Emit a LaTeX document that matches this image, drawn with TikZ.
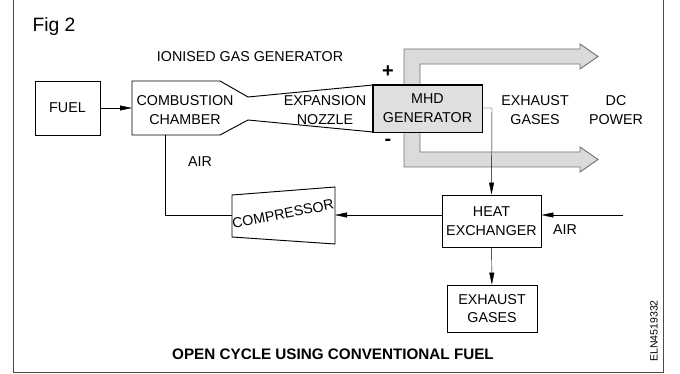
\documentclass[tikz,border=0pt]{standalone}
\usepackage{fontspec}
\setmainfont{Liberation Sans}
\usepackage{tikz}
\usetikzlibrary{arrows.meta}

\begin{document}
\begin{tikzpicture}[x=0.03cm, y=-0.03cm,
  txt/.style={font=\fontsize{12.2}{16}\selectfont, align=center, inner sep=0pt},
  box/.style={txt, draw, thick, minimum width=#1},
  flow/.style={-{Triangle[length=3.6mm,width=1.5mm]}},
  bus/.style={fill=gray!28, draw=black!55, line width=0.8pt}]
\useasboundingbox (0,0) rectangle (680,374);
\draw[gray!60!black, thick] (13,0) -- (13,372) -- (663,372) -- (663,0);
\node[font=\fontsize{16.5}{18}\selectfont] (fig) at (54,27) {Fig 2};
\node[txt] (gen) at (250,57) {IONISED GAS GENERATOR};

% boxes
\node[box=1.95cm, minimum height=1.62cm] (fuel) at (67.5,108) {FUEL};
\node[box=3.27cm, minimum height=1.41cm, fill=gray!25] (mhd) at (427.5,108.5) {MHD\\GENERATOR};
\node[box=2.97cm, minimum height=1.56cm] (hx) at (491.5,221) {HEAT\\EXCHANGER};
\node[box=2.7cm, minimum height=1.41cm] (exh) at (492,308.5) {EXHAUST\\GASES};

% combustion chamber and nozzle
\draw[thick] (373,85) -- (248,97) -- (220,81) -- (132,81) coordinate (ccw)
  -- (132,135) -- (220,135) -- (248,120) -- (373,132);
\coordinate (ccin) at (132,108);
\coordinate (ccout) at (165,135);
\node[txt] (cc) at (185,110) {COMBUSTION\\CHAMBER};
\node[txt] (noz) at (325,110) {EXPANSION\\NOZZLE};

% compressor
\draw[thick] (232,195) -- (335,187) -- (335,244) -- (232,237) -- cycle;
\coordinate (compl) at (232,215);
\coordinate (compr) at (335,215);
\node[txt, rotate=11] (comp) at (283,214) {COMPRESSOR};

% output bus bars
\draw[bus] (404,85) -- (404,49) -- (580,49) -- (580,44) -- (598,56.5) -- (580,69)
  -- (580,64) -- (420,64) -- (420,85);
\draw[bus] (404,132) -- (404,167) -- (580,167) -- (580,172) -- (598,159.5) -- (580,147)
  -- (580,152) -- (420,152) -- (420,132);
\draw[thick] (mhd.north west) rectangle (mhd.south east);
\node[font=\bfseries\fontsize{17}{18}\selectfont] (plus) at (388,72) {+};
\node[font=\bfseries\fontsize{17}{18}\selectfont] (minus) at (388,142) {-};
\node[txt] (ex) at (535,110) {EXHAUST\\GASES};
\node[txt] (dc) at (616,110) {DC\\POWER};

% connections
\draw[flow] (fuel) -- (ccin);
\coordinate (mhdr) at (492,108);
\draw[flow] (mhd.east |- mhdr) -- (mhdr) -- (hx.north);
\coordinate (airin) at (623,215);
\draw[flow] (airin) -- (airin -| hx.east);
\node[txt] (air2) at (565,230) {AIR};
\draw[flow] (compr -| hx.west) -- (compr);
\draw (ccout) -- (ccout |- compl) -- (compl);
\node[txt] (air1) at (200,162) {AIR};
\draw[flow] (hx) -- (exh);

\node[txt, font=\bfseries\fontsize{13}{15}\selectfont] (cap) at (333,354) {OPEN CYCLE USING CONVENTIONAL FUEL};
\node[txt, font=\fontsize{9}{10}\selectfont, rotate=90] (code) at (654,331) {ELN4519332};
\end{tikzpicture}
\end{document}
